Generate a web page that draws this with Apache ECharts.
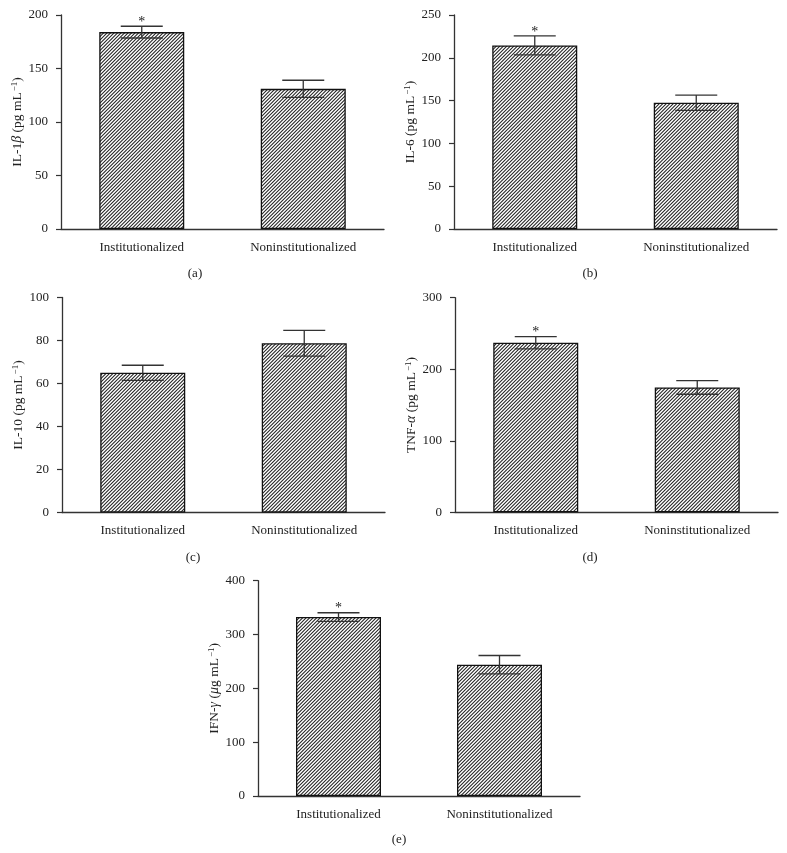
<!DOCTYPE html>
<html>
<head>
<meta charset="utf-8">
<script src="https://cdn.jsdelivr.net/npm/echarts@6/dist/echarts.min.js"></script>
<style>
  html, body { margin: 0; padding: 0; background: #fff; }
  #chart { width: 787px; height: 853px; }
</style>
</head>
<body>
<div id="chart"></div>
<script>
// ---- data ----
const categories = ['Institutionalized', 'Noninstitutionalized'];

const il1bMean = [184, 131];
const il1bErr  = [5.5, 8];
const il1bSig  = [1, 0];

const il6Mean = [214.5, 147.5];
const il6Err  = [11, 9];
const il6Sig  = [1, 0];

const il10Mean = [65, 78.7];
const il10Err  = [3.5, 6];
const il10Sig  = [0, 0];

const tnfMean = [237, 174.5];
const tnfErr  = [8.5, 9.5];
const tnfSig  = [1, 0];

const ifnMean = [332.5, 244];
const ifnErr  = [8, 17];
const ifnSig  = [1, 0];

const yMaxes    = [200, 250, 100, 300, 400];
const yIntervals = [50, 50, 20, 100, 100];
const yNames = [
  '{n|IL-1}{i|β}{n| (pg mL}{s|−1}{n|)}',
  '{n|IL-6 (pg mL}{s|−1}{n|)}',
  '{n|IL-10 (pg mL}{s|−1}{n|)}',
  '{n|TNF-}{i|α}{n| (pg mL}{s|−1}{n|)}',
  '{n|IFN-}{i|γ}{n| (}{i|μ}{n|g mL}{s|−1}{n|)}'
];
const panelLetters = ['(a)', '(b)', '(c)', '(d)', '(e)'];

// ---- layout (styles/positions) ----
const FONT = '"Liberation Serif", "DejaVu Serif", serif';
const AX = '#333';
const TXT = '#222';
const grids = [
  { left: 61,  top: 15,    width: 323, height: 214 },
  { left: 454, top: 15,    width: 323, height: 214 },
  { left: 62,  top: 297.5, width: 323, height: 215 },
  { left: 455, top: 297.7, width: 323, height: 214.6 },
  { left: 258, top: 580.7, width: 322, height: 215.3 }
];
const captionPos = [[190, 262], [585, 262], [188, 546], [585, 546], [394, 828]];

const means = [il1bMean, il6Mean, il10Mean, tnfMean, ifnMean];
const errs  = [il1bErr, il6Err, il10Err, tnfErr, ifnErr];
const sigs  = [il1bSig, il6Sig, il10Sig, tnfSig, ifnSig];

// hatch pattern (diagonal "/" lines)
const hatch = document.createElement('canvas');
hatch.width = 7; hatch.height = 7;
(function () {
  const c = hatch.getContext('2d');
  c.fillStyle = '#fff';
  c.fillRect(0, 0, 7, 7);
  c.strokeStyle = '#262626';
  c.lineWidth = 1.05;
  c.beginPath();
  [0, 3.5, 7, 10.5, 14].forEach(function (k) {
    c.moveTo(k + 1, -1); c.lineTo(-1, k + 1);
  });
  c.stroke();
})();

function renderErr(params, api) {
  const idx = api.value(0), m = api.value(1), e = api.value(2), sig = api.value(3);
  const top = api.coord([idx, m + e]);
  const bot = api.coord([idx, m - e]);
  const half = 21;
  const style = { stroke: AX, lineWidth: 1.3 };
  const children = [
    { type: 'line', shape: { x1: top[0], y1: top[1], x2: bot[0], y2: bot[1] }, style: style },
    { type: 'line', shape: { x1: top[0] - half, y1: top[1], x2: top[0] + half, y2: top[1] }, style: style },
    { type: 'line', shape: { x1: bot[0] - half, y1: bot[1], x2: bot[0] + half, y2: bot[1] }, style: style }
  ];
  if (sig) {
    children.push({
      type: 'text',
      style: { text: '*', x: top[0], y: top[1] + 3, align: 'center', verticalAlign: 'bottom',
               font: '14px ' + FONT, fill: TXT }
    });
  }
  return { type: 'group', children: children };
}

const richStyles = {
  n: { fontFamily: FONT, fontSize: 13.5, color: TXT },
  i: { fontFamily: FONT, fontSize: 14, color: TXT, fontStyle: 'italic' },
  s: { fontFamily: FONT, fontSize: 9, color: TXT, verticalAlign: 'top', padding: [0, 0, 6, 1] }
};

const option = {
  backgroundColor: '#fff',
  animation: false,
  title: panelLetters.map((t, k) => ({
    text: t, left: captionPos[k][0], top: captionPos[k][1], textAlign: 'center',
    textStyle: { fontFamily: FONT, fontSize: 13, fontWeight: 'normal', color: TXT }
  })),
  grid: grids.map(g => Object.assign({ containLabel: false }, g)),
  xAxis: grids.map((g, k) => ({
    type: 'category', gridIndex: k, data: categories,
    axisLine: { lineStyle: { color: AX, width: 1.3 } },
    axisTick: { alignWithLabel: true, length: 5, lineStyle: { color: AX, width: 1.2 } },
    axisLabel: { margin: 12, color: TXT, fontFamily: FONT, fontSize: 13 },
    splitLine: { show: false }
  })),
  yAxis: grids.map((g, k) => ({
    type: 'value', gridIndex: k, min: 0, max: yMaxes[k], interval: yIntervals[k],
    name: yNames[k], nameLocation: 'middle', nameGap: 33,
    nameTextStyle: { rich: richStyles },
    axisLine: { show: true, lineStyle: { color: AX, width: 1.3 } },
    axisTick: { show: true, length: 5, lineStyle: { color: AX, width: 1.2 } },
    axisLabel: { margin: 13, color: TXT, fontFamily: FONT, fontSize: 13 },
    splitLine: { show: false }
  })),
  series: []
};

for (let k = 0; k < 5; k++) {
  option.series.push({
    type: 'bar', xAxisIndex: k, yAxisIndex: k, barWidth: 85,
    data: means[k],
    itemStyle: { color: { image: hatch, repeat: 'repeat' }, borderColor: '#111', borderWidth: 1.3 },
    emphasis: { disabled: true }
  });
  option.series.push({
    type: 'custom', xAxisIndex: k, yAxisIndex: k, z: 5,
    renderItem: renderErr,
    encode: { x: 0, y: 1 },
    data: means[k].map((m, i) => [i, m, errs[k][i], sigs[k][i]])
  });
}

const chart = echarts.init(document.getElementById('chart'));
chart.setOption(option);
</script>
</body>
</html>
